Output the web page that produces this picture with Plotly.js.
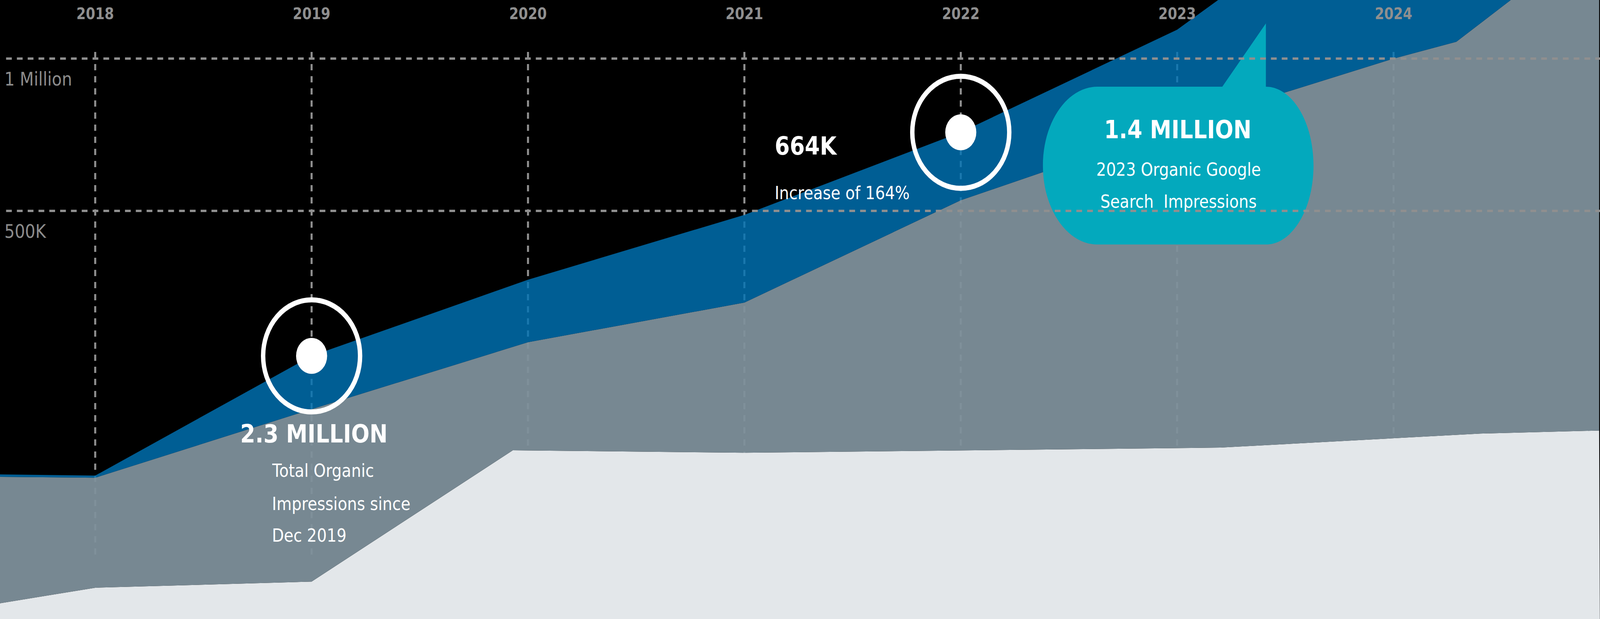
<!DOCTYPE html>
<html>
<head>
<meta charset="utf-8">
<script src="https://cdn.plot.ly/plotly-3.0.1.min.js"></script>
<style>
html,body{margin:0;padding:0;background:#000;overflow:hidden;}
#chart{width:4736px;height:1585px;transform-origin:0 0;}
</style>
</head>
<body>
<div id="chart"></div>
<script>
// ---------- data (impressions, thousands) ----------
const years = [2018, 2019, 2020, 2021, 2022, 2023, 2024];
const yearLabels = ['2018', '2019', '2020', '2021', '2022', '2023', '2024'];
const yTickValues = [500, 1000];
const yTickLabels = ['500K', '1 Million'];

// bottom (light) layer upper edge
const lightX = [2017.56, 2018, 2019, 2019.93, 2021, 2023.2, 2024.4, 2024.95];
const lightY = [-788, -737, -717, -286, -294, -277, -231, -221];
// middle (grey) layer upper edge
const greyX = [2017.56, 2018, 2019, 2020, 2021, 2022, 2023, 2024, 2024.29, 2024.95];
const greyY = [-373, -376, -151, 69, 199, 535, 778, 1000, 1055, 1415];
// top (blue) layer upper edge
const blueX = [2017.56, 2018, 2019, 2020, 2021, 2022, 2023, 2024, 2024.95];
const blueY = [-365, -369, 24, 274, 487, 758, 1095, 1609, 2090];

// ---------- layout constants ----------
const W = 4736, H = 1585;
const xRange = [2017.56, 2024.954];
const yRange = [-839.7, 1192.3];
const px = x => x / W;
const py = y => 1 - y / H;

const baseTrace = {
  x: [xRange[0], xRange[1]], y: [yRange[0] - 100, yRange[0] - 100],
  mode: 'lines', line: {width: 0}, hoverinfo: 'skip', showlegend: false
};
const lightTrace = {x: lightX, y: lightY, mode: 'lines', line: {width: 0}, fill: 'tonexty',
  fillcolor: '#e3e7ea', hoverinfo: 'skip', showlegend: false};
const greyTrace = {x: greyX, y: greyY, mode: 'lines', line: {width: 0}, fill: 'tonexty',
  fillcolor: 'rgba(126,144,155,0.94)', hoverinfo: 'skip', showlegend: false};
const blueTrace = {x: blueX, y: blueY, mode: 'lines', line: {width: 0}, fill: 'tonexty',
  fillcolor: 'rgba(0,115,180,0.82)', hoverinfo: 'skip', showlegend: false};

const gridColor = '#8f8f8f';
const shapes = [];
// vertical dashed year lines (under the areas)
years.forEach(yr => shapes.push({
  type: 'line', layer: 'below', xref: 'x', yref: 'paper',
  x0: yr, x1: yr, y0: py(1420), y1: py(123),
  line: {color: gridColor, width: 6, dash: '16px,15px'}
}));

// speech bubble
function bubblePath() {
  const L = 3087, R = 3888, T = 222, B = 626, rxL = 161, tailL = 3618, tailX = 3747, tailTip = 60;
  const rxR = R - tailX, cy = (T + B) / 2, ry = (B - T) / 2, k = 0.5523;
  const P = (x, y) => px(x).toFixed(6) + ',' + py(y).toFixed(6);
  let d = 'M' + P(L + rxL, T) + ' L' + P(tailL, T) + ' L' + P(tailX, tailTip) + ' L' + P(tailX, T);
  d += ' C' + P(tailX + k * rxR, T) + ' ' + P(R, cy - k * ry) + ' ' + P(R, cy);
  d += ' C' + P(R, cy + k * ry) + ' ' + P(tailX + k * rxR, B) + ' ' + P(tailX, B);
  d += ' L' + P(L + rxL, B);
  d += ' C' + P(L + rxL - k * rxL, B) + ' ' + P(L, cy + k * ry) + ' ' + P(L, cy);
  d += ' C' + P(L, cy - k * ry) + ' ' + P(L + rxL - k * rxL, T) + ' ' + P(L + rxL, T) + ' Z';
  return d;
}
shapes.push({type: 'path', layer: 'above', xref: 'paper', yref: 'paper', path: bubblePath(),
  fillcolor: '#03a9bd', line: {width: 0}});

// highlighted points (rings + dots)
[[years[1], blueY[2]], [years[4], blueY[5]]].forEach(([xv, yv]) => {
  shapes.push({type: 'circle', layer: 'above', xref: 'x', yref: 'y', xsizemode: 'pixel', ysizemode: 'pixel',
    xanchor: xv, yanchor: yv, x0: -143.5, x1: 143.5, y0: -143.5, y1: 143.5,
    fillcolor: 'rgba(0,0,0,0)', line: {color: '#ffffff', width: 13}});
  shapes.push({type: 'circle', layer: 'above', xref: 'x', yref: 'y', xsizemode: 'pixel', ysizemode: 'pixel',
    xanchor: xv, yanchor: yv, x0: -46, x1: 46, y0: -46, y1: 46,
    fillcolor: '#ffffff', line: {width: 0}});
});

// horizontal dashed value lines (on top of everything)
yTickValues.forEach(v => shapes.push({
  type: 'line', layer: 'above', xref: 'paper', yref: 'y',
  x0: px(18), x1: 1, y0: v, y1: v,
  line: {color: gridColor, width: 6, dash: '17px,15px'}
}));

const boldFont = {family: 'DejaVu Sans', weight: 'bold', size: 64, color: '#ffffff'};
const lightFont = {family: 'DejaVu Sans', weight: 'normal', size: 46, color: '#ffffff'};
function txt(x, y, text, font, xanchor) {
  return {xref: 'paper', yref: 'paper', x: px(x), y: py(y), text: text, font: font,
    xanchor: xanchor || 'left', yanchor: 'middle', showarrow: false, borderpad: 0};
}
const annotations = [
  txt(710, 1111, '2.3 MILLION', boldFont),
  txt(804, 1205, 'Total Organic', lightFont),
  txt(804, 1290, 'Impressions since', lightFont),
  txt(804, 1371, 'Dec 2019', lightFont),
  txt(2292, 374, '664K', boldFont),
  txt(2292, 494, 'Increase of 164%', lightFont),
  txt(3486, 332, '1.4 MILLION', boldFont, 'center'),
  txt(3488, 434, '2023 Organic Google', lightFont, 'center'),
  txt(3488, 516, 'Search\u00a0 Impressions', lightFont, 'center')
];

const layout = {
  width: W, height: H,
  margin: {l: 0, r: 0, t: 0, b: 0, pad: 0},
  paper_bgcolor: '#000000', plot_bgcolor: '#000000',
  showlegend: false,
  xaxis: {
    range: xRange, side: 'top', tickvals: years, ticktext: yearLabels,
    ticklabelposition: 'inside', ticks: '', ticklabelstandoff: 18,
    showgrid: false, zeroline: false, showline: false, fixedrange: true,
    tickfont: {family: 'DejaVu Sans', weight: 'bold', size: 40, color: '#8f8f8f'}
  },
  yaxis: {
    range: yRange, tickvals: yTickValues, ticktext: yTickLabels,
    ticklabelposition: 'inside', ticks: '', ticklabelstandoff: 10, ticklabelshift: 52,
    showgrid: false, zeroline: false, showline: false, fixedrange: true,
    tickfont: {family: 'DejaVu Sans', weight: 'normal', size: 48, color: '#8c8c8c'}
  },
  shapes: shapes,
  annotations: annotations
};

Plotly.newPlot('chart', [baseTrace, lightTrace, greyTrace, blueTrace], layout,
  {displayModeBar: false, staticPlot: true});

// fit the fixed-size drawing into the actual window
function fit() {
  const sx = window.innerWidth / W, sy = window.innerHeight / H;
  document.getElementById('chart').style.transform =
    (Math.abs(sx - 1) > 0.001 || Math.abs(sy - 1) > 0.001) ? 'scale(' + sx + ',' + sy + ')' : 'none';
}
fit();
window.addEventListener('resize', fit);
</script>
</body>
</html>
